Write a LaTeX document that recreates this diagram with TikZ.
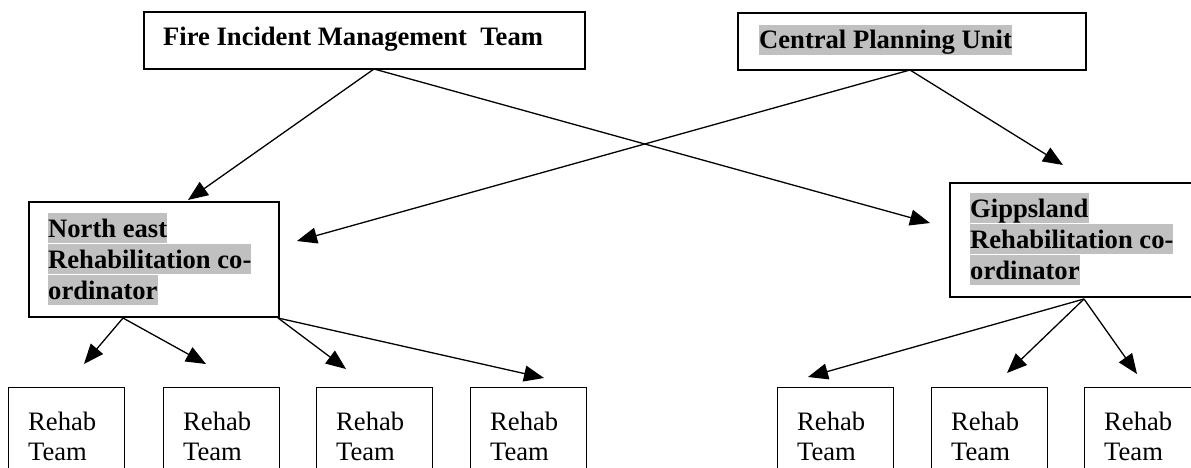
\documentclass[tikz,border=0pt]{standalone}
\usepackage{fontspec}
\setmainfont{Liberation Serif}
\usetikzlibrary{arrows.meta}
\definecolor{hl}{RGB}{192,192,192}
\begin{document}
\begin{tikzpicture}[x=1pt,y=-1pt,
  box/.style={draw,line width=1.6pt,inner sep=0pt,anchor=north west},
  rbox/.style={draw,line width=1.3pt,inner sep=0pt,anchor=north west,minimum width=116pt,minimum height=110pt},
  lbl/.style={anchor=base west,inner sep=0pt,font=\fontsize{26.6}{31}\selectfont\bfseries},
  hlbl/.style={lbl,fill=hl,text height=24pt,text depth=6pt},
  rtxt/.style={anchor=base west,inner sep=0pt,font=\fontsize{26.6}{31}\selectfont},
  arr/.style={line width=1.3pt,-{Triangle[length=20pt,width=16pt]}}]
\useasboundingbox (0,0) rectangle (1191,468);
% top boxes
\node[box,minimum width=441pt,minimum height=57pt] (fire) at (143,11) {};
\node[lbl] (firet) at (163,46) {Fire Incident Management\ \ Team};
\node[box,minimum width=348pt,minimum height=57pt] (cpu) at (737,12) {};
\node[hlbl] (cput) at (759,49) {Central Planning Unit};
% coordinators
\node[box,minimum width=250pt,minimum height=115pt] (ne) at (28,201) {};
\node[hlbl] (ne1) at (48,237) {North east};
\node[hlbl] (ne2) at (48,268) {Rehabilitation co-};
\node[hlbl] (ne3) at (48,299) {ordinator};
\node[box,minimum width=250pt,minimum height=114pt] (gp) at (949,182) {};
\node[hlbl] (gp1) at (970,217) {Gippsland};
\node[hlbl] (gp2) at (970,248) {Rehabilitation co-};
\node[hlbl] (gp3) at (970,279) {ordinator};
% rehab teams
\foreach \n/\x in {r1/8,r2/163,r3/316,r4/470,r5/777,r6/931,r7/1084}{
  \node[rbox] (\n) at (\x,387) {};
  \node[rtxt] (\n a) at (\x+20,430) {Rehab};
  \node[rtxt] (\n b) at (\x+20,460) {Team};
}
% connector end points
\coordinate (fireS) at (374,69);
\coordinate (cpuS) at (910,70);
\coordinate (neT) at (188,200);
\coordinate (neR) at (297,241);
\coordinate (gpL) at (930,223);
\coordinate (gpT) at (1063,165);
\coordinate (neB1) at (123,318);
\coordinate (neB2) at (278,318);
\coordinate (gpB) at (1084,299);
\coordinate (r1T) at (84,364);
\coordinate (r2T) at (206,364);
\coordinate (r3T) at (346,369);
\coordinate (r4T) at (544,378);
\coordinate (r5T) at (808,377);
\coordinate (r6T) at (1007,373);
\coordinate (r7T) at (1137,374);
\draw[arr] (fireS) -- (neT);
\draw[arr] (fireS) -- (gpL);
\draw[arr] (cpuS) -- (neR);
\draw[arr] (cpuS) -- (gpT);
\draw[arr] (neB1) -- (r1T);
\draw[arr] (neB1) -- (r2T);
\draw[arr] (neB2) -- (r3T);
\draw[arr] (neB2) -- (r4T);
\draw[arr] (gpB) -- (r5T);
\draw[arr] (gpB) -- (r6T);
\draw[arr] (gpB) -- (r7T);
\end{tikzpicture}
\end{document}
